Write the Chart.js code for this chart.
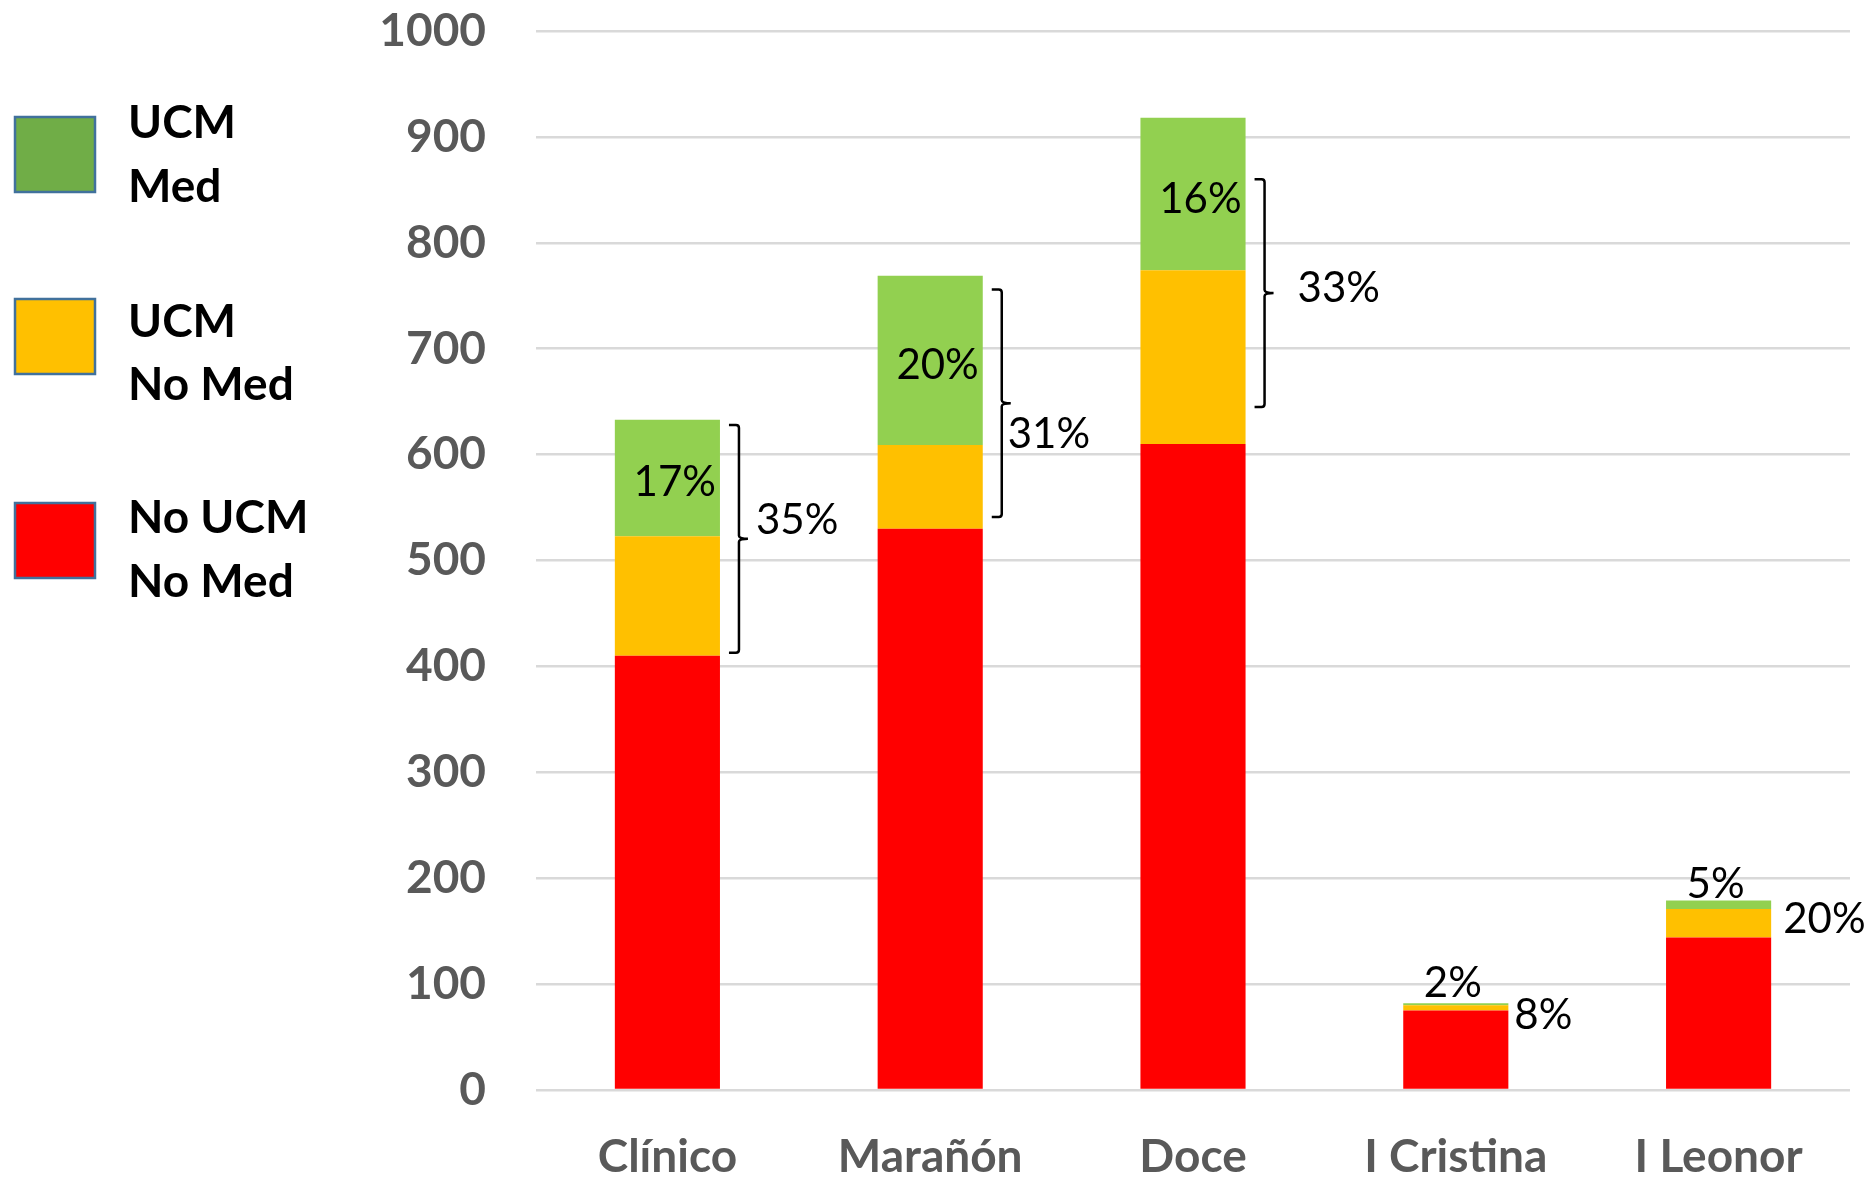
<!DOCTYPE html>
<html>
<head>
<meta charset="utf-8">
<script src="https://cdn.jsdelivr.net/npm/chart.js@4.4.1/dist/chart.umd.min.js"></script>
<style>
  html, body { margin: 0; padding: 0; background: #fff; }
  #wrap { width: 1872px; height: 1181px; position: relative; }
</style>
</head>
<body>
<div id="wrap"><canvas id="chart"></canvas></div>
<script>
// data
const hospitals = ["Clínico", "Marañón", "Doce", "I Cristina", "I Leonor"];
const noUcmNoMed = [410, 530, 610, 75, 144];
const ucmNoMed = [113, 79, 164, 5, 27];
const ucmMed = [110, 160, 144, 2, 8];
const medPct = ["17%", "20%", "16%", "2%", "5%"];
const ucmPct = ["35%", "31%", "33%", "8%", "20%"];
// brace spans and label anchors, in axis units
const braceFrom = [413, 541, 645, null, null];
const braceTo = [628, 756, 860, null, null];
const ucmPctAt = [538, 619, 757, 70, 161];

const legendLines = [["UCM", "Med"], ["UCM", "No Med"], ["No UCM", "No Med"]];
const legendColors = ["#70AD47", "#FFC000", "#FF0000"];

Chart.defaults.font.family = "Lato";

// hand placed things (pixels)
const ucmPctDx = [36, 25, 52, 6, 12];
const medPctLift = [0, 0, 0, 20, 16];

const overlay = {
  id: "overlay",
  afterDatasetsDraw(chart) {
    const ctx = chart.ctx;
    const y = chart.scales.y;
    const bars = chart.getDatasetMeta(0).data;
    ctx.save();
    ctx.fillStyle = "#000";
    ctx.strokeStyle = "#000";
    ctx.lineWidth = 2.5;
    ctx.font = "42px Lato";
    ctx.textBaseline = "middle";
    bars.forEach((bar, i) => {
      const right = bar.x + bar.width / 2;
      const total = noUcmNoMed[i] + ucmNoMed[i] + ucmMed[i];
      if (braceFrom[i] != null) {
        // label inside the green part
        const mid = noUcmNoMed[i] + ucmNoMed[i] + ucmMed[i] / 2;
        ctx.textAlign = "right";
        ctx.fillText(medPct[i], right - 4, y.getPixelForValue(mid) + 5);
        // brace
        const t = y.getPixelForValue(braceTo[i]);
        const b = y.getPixelForValue(braceFrom[i]);
        const m = (t + b) / 2;
        const x0 = right + 9, x1 = right + 19, x2 = right + 28;
        ctx.beginPath();
        ctx.moveTo(x0, t);
        ctx.lineTo(x1 - 3, t);
        ctx.quadraticCurveTo(x1, t, x1, t + 3);
        ctx.lineTo(x1, m - 3);
        ctx.quadraticCurveTo(x1, m, x2, m);
        ctx.quadraticCurveTo(x1, m, x1, m + 3);
        ctx.lineTo(x1, b - 3);
        ctx.quadraticCurveTo(x1, b, x1 - 3, b);
        ctx.lineTo(x0, b);
        ctx.stroke();
      } else {
        ctx.textAlign = "center";
        ctx.fillText(medPct[i], bar.x - 3, y.getPixelForValue(total) - medPctLift[i]);
      }
      ctx.textAlign = "left";
      ctx.fillText(ucmPct[i], right + ucmPctDx[i], y.getPixelForValue(ucmPctAt[i]));
    });
    ctx.restore();
  },
  afterDraw(chart) {
    const ctx = chart.ctx;
    ctx.save();
    const boxTops = [117, 299, 503];
    const baselines = [[138, 202], [337, 400], [533, 597]];
    legendLines.forEach((lines, i) => {
      ctx.fillStyle = legendColors[i];
      ctx.fillRect(15, boxTops[i], 80, 75);
      ctx.strokeStyle = "#41719C";
      ctx.lineWidth = 2.5;
      ctx.strokeRect(15, boxTops[i], 80, 75);
      ctx.fillStyle = "#000";
      ctx.font = "bold 46px Lato";
      ctx.textAlign = "left";
      ctx.textBaseline = "alphabetic";
      lines.forEach((txt, k) => ctx.fillText(txt, 128, baselines[i][k]));
    });
    ctx.restore();
  }
};

new Chart(document.getElementById("chart"), {
  type: "bar",
  data: {
    labels: hospitals,
    datasets: [
      { label: "No UCM No Med", data: noUcmNoMed, backgroundColor: "#FF0000" },
      { label: "UCM No Med", data: ucmNoMed, backgroundColor: "#FFC000" },
      { label: "UCM Med", data: ucmMed, backgroundColor: "#92D050" }
    ]
  },
  options: {
    responsive: true,
    maintainAspectRatio: false,
    animation: false,
    barPercentage: 0.4,
    categoryPercentage: 1,
    layout: { padding: { top: 31, right: 22, bottom: 0, left: 0 } },
    plugins: {
      legend: { display: false },
      tooltip: { enabled: false }
    },
    scales: {
      x: {
        stacked: true,
        grid: { display: false },
        border: { display: false },
        ticks: {
          color: "#595959",
          font: { size: 46, weight: "bold" },
          padding: 32,
          maxRotation: 0
        },
        afterFit(scale) { scale.height = 91; }
      },
      y: {
        stacked: true,
        min: 0,
        max: 1000,
        border: { display: false },
        grid: { color: "#D9D9D9", lineWidth: 2.5, drawTicks: false },
        ticks: {
          stepSize: 100,
          color: "#595959",
          font: { size: 46, weight: "bold" },
          padding: 50,
          callback: (v) => String(v)
        },
        afterFit(scale) {
          scale.width = 536;
          scale.paddingTop = 0;
          scale.paddingBottom = 0;
        }
      }
    }
  },
  plugins: [overlay]
});
</script>
</body>
</html>
